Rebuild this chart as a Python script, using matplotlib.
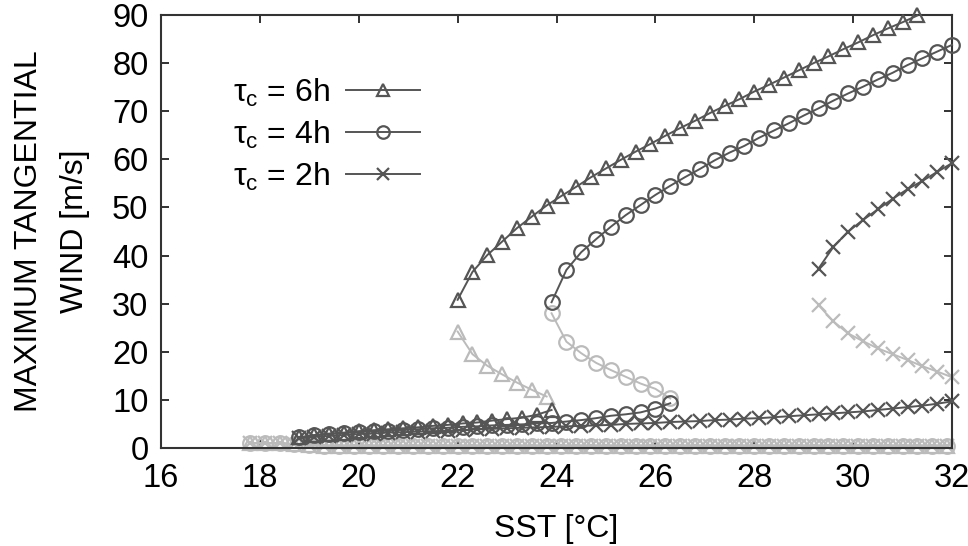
import matplotlib
matplotlib.use("Agg")
import matplotlib.pyplot as plt

plt.rcParams['font.family'] = ['Liberation Sans', 'DejaVu Sans']
plt.rcParams['mathtext.fontset'] = 'custom'
plt.rcParams['mathtext.rm'] = 'Liberation Sans'

dark = '#555555'
light = '#bbbbbb'

# upper (stable) branches
sst_6h_up = [22.0, 22.3, 22.6, 22.9, 23.2, 23.5, 23.8, 24.1, 24.4, 24.7, 25.0, 25.3,
             25.6, 25.9, 26.2, 26.5, 26.8, 27.1, 27.4, 27.7, 28.0, 28.3, 28.6, 28.9,
             29.2, 29.5, 29.8, 30.1, 30.4, 30.7, 31.0, 31.3]
v_6h_up = [30.8, 36.6, 40.1, 42.9, 45.7, 48.1, 50.4, 52.4, 54.3, 56.3, 58.1, 59.9,
           61.6, 63.2, 64.9, 66.5, 68.0, 69.6, 71.1, 72.5, 74.1, 75.5, 77.0, 78.5,
           80.0, 81.4, 82.9, 84.3, 85.8, 87.2, 88.5, 89.9]

sst_4h_up = [23.9, 24.2, 24.5, 24.8, 25.1, 25.4, 25.7, 26.0, 26.3, 26.6, 26.9, 27.2,
             27.5, 27.8, 28.1, 28.4, 28.7, 29.0, 29.3, 29.6, 29.9, 30.2, 30.5, 30.8,
             31.1, 31.4, 31.7, 32.0]
v_4h_up = [30.3, 37.0, 40.7, 43.4, 46.0, 48.4, 50.5, 52.6, 54.5, 56.3, 58.0, 59.8,
           61.4, 62.8, 64.5, 66.0, 67.5, 69.1, 70.6, 72.2, 73.7, 75.1, 76.6, 78.0,
           79.6, 81.0, 82.4, 83.8]

sst_2h_up = [29.3, 29.6, 29.9, 30.2, 30.5, 30.8, 31.1, 31.4, 31.7, 32.0]
v_2h_up = [37.3, 41.8, 45.0, 47.4, 49.6, 51.8, 53.8, 55.5, 57.4, 59.2]

# middle (unstable) branches
sst_6h_mid = [22.0, 22.3, 22.6, 22.9, 23.2, 23.5, 23.8]
v_6h_mid = [24.2, 19.5, 17.1, 15.3, 13.6, 12.1, 10.7]

sst_4h_mid = [23.9, 24.2, 24.5, 24.8, 25.1, 25.4, 25.7, 26.0, 26.3]
v_4h_mid = [28.0, 22.1, 19.7, 17.7, 16.2, 14.8, 13.4, 12.3, 10.3]

sst_2h_mid = [29.3, 29.6, 29.9, 30.2, 30.5, 30.8, 31.1, 31.4, 31.7, 32.0]
v_2h_mid = [29.7, 26.3, 23.8, 22.2, 20.7, 19.5, 18.3, 17.0, 15.9, 14.7]

# lower (weak) branches
sst_6h_low = [18.8, 19.1, 19.4, 19.7, 20.0, 20.3, 20.6, 20.9, 21.2, 21.5, 21.8, 22.1,
              22.4, 22.7, 23.0, 23.3, 23.6, 23.9]
v_6h_low = [2.2, 2.7, 3.0, 3.2, 3.5, 3.7, 3.9, 4.1, 4.3, 4.6, 4.8, 5.1,
            5.3, 5.7, 6.0, 6.3, 6.9, 7.9]

sst_4h_low = [18.8, 19.1, 19.4, 19.7, 20.0, 20.3, 20.6, 20.9, 21.2, 21.5, 21.8, 22.1,
              22.4, 22.7, 23.0, 23.3, 23.6, 23.9, 24.2, 24.5, 24.8, 25.1, 25.4, 25.7,
              26.0, 26.3]
v_4h_low = [2.2, 2.6, 2.9, 3.1, 3.3, 3.5, 3.6, 3.8, 3.9, 4.1, 4.2, 4.4,
            4.5, 4.7, 4.8, 4.9, 5.1, 5.2, 5.5, 5.8, 6.2, 6.7, 7.0, 7.4,
            8.2, 9.3]

sst_2h_low = [18.8, 19.1, 19.4, 19.7, 20.0, 20.3, 20.6, 20.9, 21.2, 21.5, 21.8, 22.1,
              22.4, 22.7, 23.0, 23.3, 23.6, 23.9, 24.2, 24.5, 24.8, 25.1, 25.4, 25.7,
              26.0, 26.3, 26.6, 26.9, 27.2, 27.5, 27.8, 28.1, 28.4, 28.7, 29.0, 29.3,
              29.6, 29.9, 30.2, 30.5, 30.8, 31.1, 31.4, 31.7, 32.0]
v_2h_low = [2.0, 2.3, 2.5, 2.7, 2.9, 3.0, 3.2, 3.3, 3.4, 3.5, 3.6, 3.7,
            3.9, 4.0, 4.1, 4.2, 4.3, 4.4, 4.5, 4.6, 4.7, 4.8, 5.0, 5.1,
            5.2, 5.4, 5.5, 5.6, 5.8, 5.9, 6.1, 6.2, 6.4, 6.6, 6.8, 7.0,
            7.2, 7.4, 7.6, 7.9, 8.2, 8.5, 8.8, 9.2, 9.7]

# near-zero (unstable) solution, shared by all three
sst_zero = [17.8, 18.1, 18.4, 18.7, 19.0, 19.3, 19.6, 19.9, 20.2, 20.5, 20.8, 21.1,
            21.4, 21.7, 22.0, 22.3, 22.6, 22.9, 23.2, 23.5, 23.8, 24.1, 24.4, 24.7,
            25.0, 25.3, 25.6, 25.9, 26.2, 26.5, 26.8, 27.1, 27.4, 27.7, 28.0, 28.3,
            28.6, 28.9, 29.2, 29.5, 29.8, 30.1, 30.4, 30.7, 31.0, 31.3, 31.6, 31.9]
v_zero = [1.0, 1.0, 1.0, 0.8, 0.6, 0.5, 0.5, 0.5, 0.5, 0.5, 0.5, 0.5,
          0.5, 0.5, 0.5, 0.5, 0.5, 0.5, 0.5, 0.5, 0.5, 0.5, 0.5, 0.5,
          0.5, 0.5, 0.5, 0.5, 0.5, 0.5, 0.5, 0.5, 0.5, 0.5, 0.5, 0.5,
          0.5, 0.5, 0.5, 0.5, 0.5, 0.5, 0.5, 0.5, 0.5, 0.5, 0.5, 0.5]

labels = [r'τ$_{\rm c}$ = 6h', r'τ$_{\rm c}$ = 4h', r'τ$_{\rm c}$ = 2h']
markers = ['^', 'o', 'x']

fig = plt.figure(figsize=(9.68, 5.46), dpi=100)
ax = fig.add_axes([0.1663, 0.1795, 0.8172, 0.793])

ms = dict(markersize=10.5, markeredgewidth=1.6, fillstyle='none', linewidth=1.4, clip_on=False)

# light unstable branches first
for m in markers:
    ax.plot(sst_zero, v_zero, marker=m, color=light, zorder=2, **ms)
ax.plot(sst_6h_mid, v_6h_mid, marker='^', color=light, zorder=2, **ms)
ax.plot(sst_4h_mid, v_4h_mid, marker='o', color=light, zorder=2, **ms)
ax.plot(sst_2h_mid, v_2h_mid, marker='x', color=light, zorder=2, **ms)

# dark stable branches
ax.plot(sst_2h_low, v_2h_low, marker='x', color=dark, zorder=3, **ms)
ax.plot(sst_4h_low, v_4h_low, marker='o', color=dark, zorder=3, **ms)
ax.plot(sst_6h_low, v_6h_low, marker='^', color=dark, zorder=3, **ms)
h6, = ax.plot(sst_6h_up, v_6h_up, marker='^', color=dark, zorder=3, **ms)
h4, = ax.plot(sst_4h_up, v_4h_up, marker='o', color=dark, zorder=3, **ms)
h2, = ax.plot(sst_2h_up, v_2h_up, marker='x', color=dark, zorder=3, **ms)

ax.set_xlim(16, 32)
ax.set_ylim(0, 90)
ax.set_xticks(range(16, 33, 2))
ax.set_yticks(range(0, 91, 10))
ax.tick_params(direction='in', length=6, width=1.3, top=True, right=True,
               labelsize=23.5, color='#222222')
ax.tick_params(axis='x', pad=11)
ax.tick_params(axis='y', pad=9)
for s in ax.spines.values():
    s.set_linewidth(1.5)
    s.set_color('#333333')

ax.set_xlabel('SST [°C]', fontsize=23, labelpad=14)
ax.set_ylabel('MAXIMUM TANGENTIAL\nWIND [m/s]', fontsize=23, labelpad=16, linespacing=1.7)

leg = ax.legend([h6, h4, h2], labels, loc='upper left', bbox_to_anchor=(0.055, 0.925),
                frameon=False, markerfirst=False, numpoints=1, fontsize=23,
                handlelength=2.3, handletextpad=0.5, labelspacing=0.3)
for lh in leg.get_lines():
    lh.set_markersize(9)

fig.savefig('out.png', dpi=100)
